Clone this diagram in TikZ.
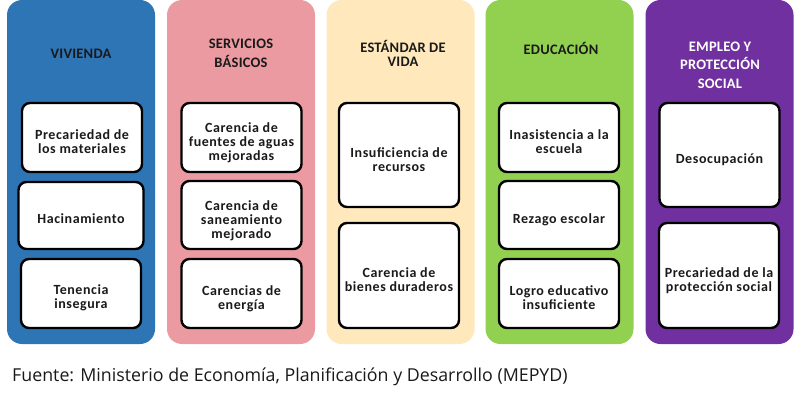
\documentclass[tikz,border=0pt]{standalone}
\usepackage{fontspec}
\setmainfont{Carlito}
\newfontfamily\boxfont{Carlito}[LetterSpace=4]
\newfontfamily\headfont{Carlito}[LetterSpace=1.5]
\newfontfamily\capfont{Open Sans}
\definecolor{cblue}{HTML}{2E75B6}
\definecolor{cpink}{HTML}{EC9AA1}
\definecolor{cyellow}{HTML}{FFE9BC}
\definecolor{cgreen}{HTML}{92D050}
\definecolor{cpurple}{HTML}{7030A0}
\definecolor{ctext}{HTML}{1A1A1A}
\tikzset{
  col/.style={draw=none, rounded corners=15pt, minimum width=148pt, minimum height=344pt, inner sep=0pt},
  head/.style={font=\headfont\fontsize{14.5}{19}\selectfont\bfseries, text=ctext, align=center, inner sep=0pt},
  item/.style={draw=black, line width=2.4pt, fill=white, rounded corners=8pt, minimum width=120pt, inner sep=0pt},
  txt/.style={font=\boxfont\fontsize{14}{14}\selectfont\bfseries, text=ctext, align=center, inner sep=0pt, yshift=-4pt},
}
\begin{document}
\begin{tikzpicture}[x=1pt,y=-1pt]
\useasboundingbox[fill=white] (0,0) rectangle (810,401);
% columns
\node[col, fill=cblue]   (c1) at (81,172)  {};
\node[col, fill=cpink]   (c2) at (241,172) {};
\node[col, fill=cyellow] (c3) at (400.5,172) {};
\node[col, fill=cgreen]  (c4) at (559.5,172) {};
\node[col, fill=cpurple] (c5) at (719.5,172) {};
% headings
\node[head] (h1) at (81,54) {VIVIENDA};
\node[head] (h2) at (241,53.5) {SERVICIOS\\BÁSICOS};
\node[head, font=\headfont\fontsize{14.5}{14}\selectfont\bfseries] (h3) at (403,53.5) {ESTÁNDAR DE\\VIDA};
\node[head] (h4) at (561,48) {EDUCACIÓN};
\node[head, text=white, font=\headfont\fontsize{14.5}{18.5}\selectfont\bfseries] (h5) at (720,65) {EMPLEO Y\\PROTECCIÓN\\SOCIAL};
% column 1
\node[item, minimum height=69pt, label={[txt]center:{Precariedad de\\los materiales}}] (v1) at (82,137.5) {};
\node[item, minimum height=67pt, minimum width=125pt, label={[txt, yshift=1pt]center:{Hacinamiento}}] (v2) at (81,215.5) {};
\node[item, minimum height=69pt, label={[txt, yshift=-0.5pt]center:{Tenencia\\insegura}}] (v3) at (81,293.5) {};
% column 2
\node[item, minimum height=69pt, label={[txt, yshift=-1pt]center:{Carencia de\\fuentes de aguas\\mejoradas}}] (s1) at (241.5,137.5) {};
\node[item, minimum height=68pt, label={[txt, yshift=-1.5pt]center:{Carencia de\\saneamiento\\mejorado}}] (s2) at (241.5,215) {};
\node[item, minimum height=69pt, label={[txt, yshift=-1pt]center:{Carencias de\\energía}}] (s3) at (241.5,293.5) {};
% column 3
\node[item, minimum height=104pt, label={[txt, yshift=-1pt]center:{Insuficiencia de\\recursos}}] (e1) at (399,155) {};
\node[item, minimum height=105pt, label={[txt]center:{Carencia de\\bienes duraderos}}] (e2) at (399,275.5) {};
% column 4
\node[item, minimum height=69pt, label={[txt]center:{Inasistencia a la\\escuela}}] (d1) at (559,137.5) {};
\node[item, minimum height=68pt, label={[txt, yshift=-1pt]center:{Rezago escolar}}] (d2) at (559,215) {};
\node[item, minimum height=69pt, label={[txt]center:{Logro educativo\\insuficiente}}] (d3) at (559,293.5) {};
% column 5
\node[item, minimum height=104pt, label={[txt, yshift=-1pt]center:{Desocupación}}] (p1) at (719.5,155) {};
\node[item, minimum height=105pt, label={[txt, yshift=-1.5pt]center:{Precariedad de la\\protección social}}] (p2) at (719,275.5) {};
% caption
\node[anchor=west, inner sep=0pt, font=\capfont\fontsize{17.8}{19}\selectfont, text=ctext] (cap) at (12,377) {Fuente: Ministerio de Economía, Planificación y Desarrollo (MEPYD)};
\end{tikzpicture}
\end{document}
